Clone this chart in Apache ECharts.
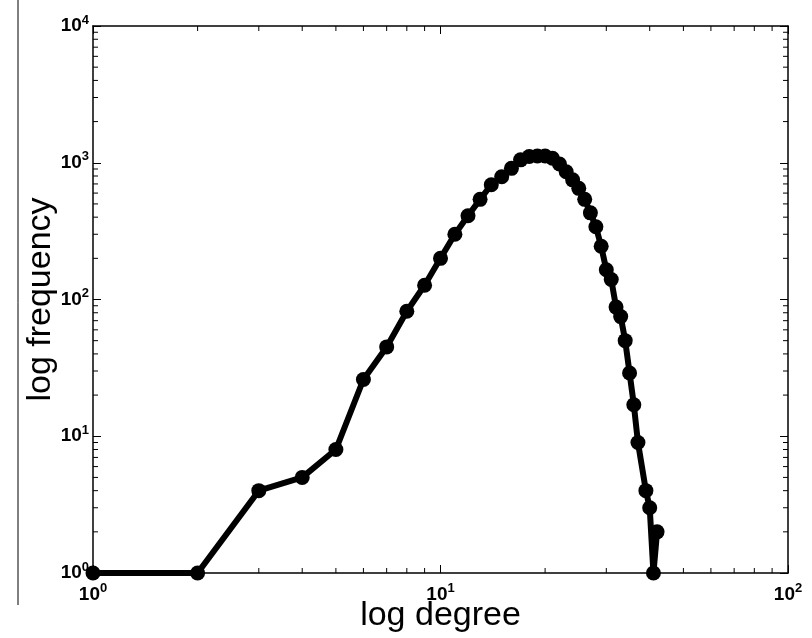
<!DOCTYPE html>
<html>
<head>
<meta charset="utf-8">
<script src="https://cdn.jsdelivr.net/npm/echarts@6/dist/echarts.min.js"></script>
<style>
  html, body { margin: 0; padding: 0; background: #fff; }
  #main { width: 812px; height: 638px; }
</style>
</head>
<body>
<div id="main"></div>
<script>
// degree values (38 has no count, so it is not in the log plot)
const degrees = [1, 2, 3, 4, 5, 6, 7, 8, 9, 10, 11, 12, 13, 14, 15, 16, 17, 18, 19, 20,
  21, 22, 23, 24, 25, 26, 27, 28, 29, 30, 31, 32, 33, 34, 35, 36, 37, 39, 40, 41, 42];
const frequency = [1, 1, 4, 5, 8, 26, 45, 82, 127, 200, 300, 410, 540, 690, 790, 910, 1050, 1110, 1120, 1120,
  1080, 980, 860, 750, 650, 540, 430, 340, 245, 165, 140, 88, 75, 50, 29, 17, 9, 4, 3, 1, 2];

const xMinorTicks = [2, 3, 4, 5, 6, 7, 8, 9, 20, 30, 40, 50, 60, 70, 80, 90];
const yMinorTicks = [2, 3, 4, 5, 6, 7, 8, 9, 20, 30, 40, 50, 60, 70, 80, 90,
  200, 300, 400, 500, 600, 700, 800, 900, 2000, 3000, 4000, 5000, 6000, 7000, 8000, 9000];

const FONT = 'Liberation Sans, Arial, Helvetica, sans-serif';
const TICK_FONT = 'Liberation Sans Narrow, Liberation Sans, Arial, sans-serif';

const chart = echarts.init(document.getElementById('main'));

const powLabel = (v) => '{b|10}{s|' + Math.round(Math.log10(v)) + '}';
const labelRich = {
  b: { fontFamily: TICK_FONT, fontWeight: 'bold', fontSize: 19, color: '#000' },
  s: { fontFamily: TICK_FONT, fontWeight: 'bold', fontSize: 13, color: '#000', verticalAlign: 'top', padding: [0, 0, 12, 0] }
};

const baseAxis = {
  type: 'log',
  logBase: 10,
  axisLine: { show: true, lineStyle: { color: '#000', width: 1.5 } },
  axisTick: { show: true, inside: true, length: 8, lineStyle: { color: '#000', width: 1 } },
  splitLine: { show: false }
};

// minor tick marks drawn through the axis scales
const minorTicks = [];
xMinorTicks.forEach(v => minorTicks.push(['x', v]));
yMinorTicks.forEach(v => minorTicks.push(['y', v]));

const option = {
  animation: false,
  backgroundColor: '#fff',
  grid: { left: 93, right: 24, top: 26, bottom: 65, outerBoundsMode: 'none', containLabel: false },
  graphic: [{
    type: 'line',
    shape: { x1: 18, y1: 0, x2: 18, y2: 605 },
    style: { stroke: '#000', lineWidth: 1 }
  }],
  xAxis: [
    Object.assign({}, baseAxis, {
      min: 1, max: 100, position: 'bottom',
      name: 'log degree', nameLocation: 'middle', nameGap: 26, nameMoveOverlap: false,
      nameTextStyle: { fontFamily: FONT, fontSize: 34, color: '#000', verticalAlign: 'top' },
      axisLabel: { formatter: powLabel, rich: labelRich, margin: 9 }
    }),
    Object.assign({}, baseAxis, {
      min: 1, max: 100, position: 'top', axisLabel: { show: false }
    })
  ],
  yAxis: [
    Object.assign({}, baseAxis, {
      min: 1, max: 10000, position: 'left',
      name: 'log frequency', nameLocation: 'middle', nameGap: 35, nameMoveOverlap: false,
      nameTextStyle: { fontFamily: FONT, fontSize: 34, color: '#000' },
      axisLabel: { formatter: powLabel, rich: labelRich, margin: 4 }
    }),
    Object.assign({}, baseAxis, {
      min: 1, max: 10000, position: 'right', axisLabel: { show: false }
    })
  ],
  series: [
    {
      type: 'line',
      data: degrees.map((d, i) => [d, frequency[i]]),
      symbol: 'circle',
      symbolSize: 15,
      lineStyle: { color: '#000', width: 6 },
      itemStyle: { color: '#000' },
      clip: false,
      z: 5
    },
    {
      type: 'custom',
      data: minorTicks.map(t => [t[0] === 'x' ? t[1] : 1, t[0] === 'y' ? t[1] : 1, t[0]]),
      encode: { x: 0, y: 1 },
      silent: true,
      renderItem: (params, api) => {
        const axis = minorTicks[params.dataIndex][0];
        const v = minorTicks[params.dataIndex][1];
        const len = 5;
        const style = { stroke: '#000', lineWidth: 1 };
        if (axis === 'x') {
          const b = api.coord([v, 1]);
          const t = api.coord([v, 10000]);
          return { type: 'group', children: [
            { type: 'line', shape: { x1: b[0], y1: b[1], x2: b[0], y2: b[1] - len }, style },
            { type: 'line', shape: { x1: t[0], y1: t[1], x2: t[0], y2: t[1] + len }, style }
          ] };
        }
        const l = api.coord([1, v]);
        const r = api.coord([100, v]);
        return { type: 'group', children: [
          { type: 'line', shape: { x1: l[0], y1: l[1], x2: l[0] + len, y2: l[1] }, style },
          { type: 'line', shape: { x1: r[0], y1: r[1], x2: r[0] - len, y2: r[1] }, style }
        ] };
      }
    }
  ]
};

chart.setOption(option);
</script>
</body>
</html>
